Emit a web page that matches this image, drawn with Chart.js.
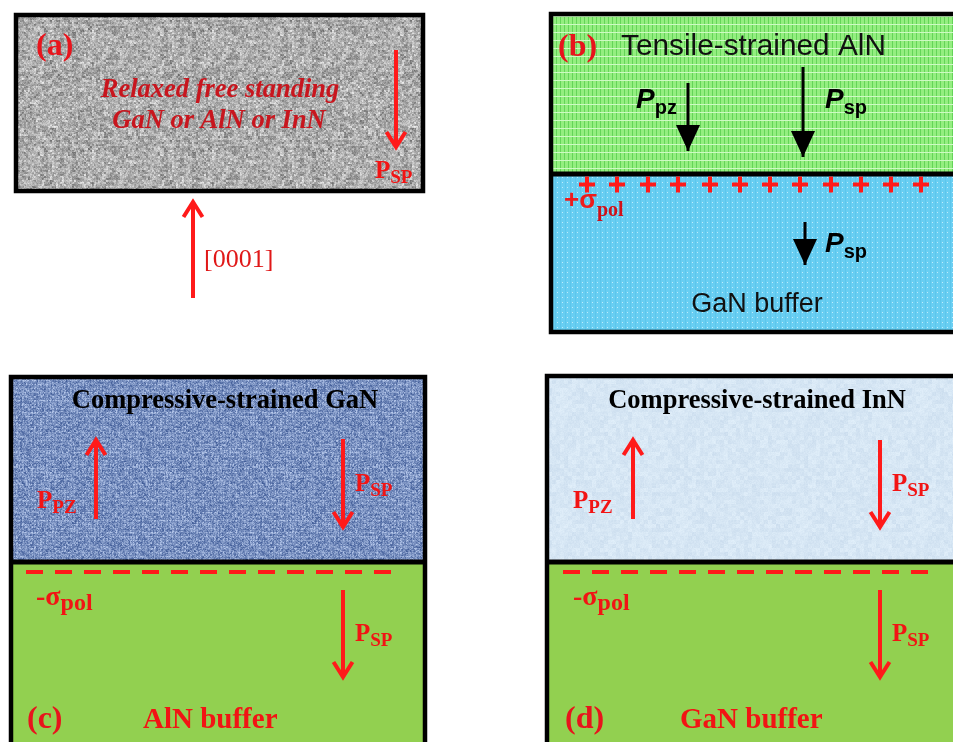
<!DOCTYPE html>
<html><head><meta charset="utf-8">
<script src="https://cdn.jsdelivr.net/npm/chart.js@4/dist/chart.umd.min.js"></script>
<style>html,body{margin:0;padding:0;background:#fff;overflow:hidden}canvas{display:block}</style>
</head><body>
<canvas id="c" width="953" height="742"></canvas>
<script>
// ---- diagram data (diagram units on a 953 x 742 value grid) ----
const layers = [
  {id:'a',     x0:16,  x1:423, y0:15,  y1:191, material:'grey'},
  {id:'b-top', x0:551, x1:960, y0:14,  y1:174, material:'greenGrid'},
  {id:'b-bot', x0:551, x1:960, y0:174, y1:332, material:'cyanDots'},
  {id:'c-top', x0:11,  x1:425, y0:377, y1:562, material:'denim'},
  {id:'c-bot', x0:11,  x1:425, y0:562, y1:750, material:'green'},
  {id:'d-top', x0:547, x1:960, y0:376, y1:562, material:'paleBlue'},
  {id:'d-bot', x0:547, x1:960, y0:562, y1:750, material:'green'}
];
const frames = [
  {x0:16,  x1:423, y0:15,  y1:191},
  {x0:551, x1:962, y0:14,  y1:332},
  {x0:11,  x1:425, y0:377, y1:752},
  {x0:547, x1:962, y0:376, y1:752}
];
const interfaces = [
  {x0:551, x1:962, y:174},
  {x0:11,  x1:425, y:562},
  {x0:547, x1:962, y:562}
];
const arrows = [
  {x:396, from:50,  to:147, kind:'red'},
  {x:193, from:298, to:202, kind:'red'},
  {x:688, from:83,  to:151, kind:'black'},
  {x:803, from:67,  to:157, kind:'black'},
  {x:805, from:222, to:265, kind:'black'},
  {x:96,  from:519, to:440, kind:'red'},
  {x:343, from:439, to:527, kind:'red'},
  {x:343, from:590, to:677, kind:'red'},
  {x:633, from:519, to:440, kind:'red'},
  {x:880, from:440, to:527, kind:'red'},
  {x:880, from:590, to:677, kind:'red'}
];
const chargeX = [587,617,648,678,710,740,770,800,831,861,891,921];
const chargeY = 184.5;
const negSheets = [
  {x0:26,  x1:398, y:572},
  {x0:563, x1:934, y:572}
];
const labels = [
  {text:'(a)', x:36, y:55, style:'panel'},
  {text:'Relaxed free standing', x:220, y:97, style:'italicRed', align:'center'},
  {text:'GaN or AlN or InN', x:219, y:128, style:'italicRed', align:'center'},
  {text:'P', sub:'SP', x:375, y:178, style:'pSerif'},
  {text:'[0001]', x:204, y:267, style:'axis'},
  {text:'(b)', x:558, y:56, style:'panel'},
  {text:'Tensile-strained AlN', x:621, y:55, style:'sansTitle'},
  {text:'P', sub:'pz', x:636, y:108, style:'pSans'},
  {text:'P', sub:'sp', x:825, y:108, style:'pSans'},
  {text:'P', sub:'sp', x:825, y:252, style:'pSans'},
  {text:'+σ', sub:'pol', x:564, y:208, style:'sigmaPlus'},
  {text:'GaN buffer', x:757, y:312, style:'sansBase', align:'center'},
  {text:'Compressive-strained GaN', x:225, y:408, style:'serifTitle', align:'center'},
  {text:'P', sub:'PZ', x:37, y:508, style:'pSerif'},
  {text:'P', sub:'SP', x:355, y:491, style:'pSerif'},
  {text:'-σ', sub:'pol', x:36, y:605, style:'sigmaMinus'},
  {text:'P', sub:'SP', x:355, y:641, style:'pSerif'},
  {text:'(c)', x:27, y:728, style:'panel'},
  {text:'AlN buffer', x:143, y:728, style:'bufferRed'},
  {text:'Compressive-strained InN', x:757, y:408, style:'serifTitle', align:'center'},
  {text:'P', sub:'PZ', x:573, y:508, style:'pSerif'},
  {text:'P', sub:'SP', x:892, y:491, style:'pSerif'},
  {text:'-σ', sub:'pol', x:573, y:605, style:'sigmaMinus'},
  {text:'P', sub:'SP', x:892, y:641, style:'pSerif'},
  {text:'(d)', x:565, y:728, style:'panel'},
  {text:'GaN buffer', x:680, y:728, style:'bufferRed'}
];

// ---- styles ----
const RED = '#f21414';
const SERIF = '"Liberation Serif","DejaVu Serif",serif';
const SANS = '"Liberation Sans",Arial,sans-serif';
const textStyles = {
  panel:     {font:'bold 32px '+SERIF, color:'#e8141c'},
  italicRed: {font:'italic bold 26.5px '+SERIF, color:'#c8161e'},
  pSerif:    {font:'bold 25px '+SERIF, subFont:'bold 19px '+SERIF, subDy:5, color:RED},
  axis:      {font:'26px '+SERIF, color:'#e01818'},
  sansTitle: {font:'29.8px '+SANS, color:'#111'},
  pSans:     {font:'italic bold 28px '+SANS, subFont:'bold 20px '+SANS, subDy:6, color:'#000'},
  sigmaPlus: {font:'bold 26px '+SANS, subFont:'bold 20px '+SERIF, subDy:8, color:'#ee1c1c', subColor:'#d01018'},
  sansBase:  {font:'27px '+SANS, color:'#111'},
  serifTitle:{font:'bold 26.5px '+SERIF, color:'#000'},
  sigmaMinus:{font:'bold 28px '+SERIF, subFont:'bold 24px '+SERIF, subDy:5, color:RED},
  bufferRed: {font:'bold 29px '+SERIF, color:RED}
};
const arrowStyles = {
  red:   {color:'#ff1a1a', width:4, head:'chevron', hw:9.5, hl:15},
  black: {color:'#000',    width:3, head:'triangle', hw:12, hl:26}
};

// ---- deterministic textures ----
function hsh(i,j,s){
  let n = Math.imul(i,374761393) ^ Math.imul(j,668265263) ^ Math.imul(s,1442695041);
  n = Math.imul(n ^ (n>>>13), 1274126177);
  n = n ^ (n>>>16);
  return (n>>>0)/4294967296;
}
function makeTile(w,h,fn){
  const cv = document.createElement('canvas'); cv.width=w; cv.height=h;
  const c = cv.getContext('2d'); const img = c.createImageData(w,h);
  for(let j=0;j<h;j++)for(let i=0;i<w;i++){
    const [r,g,b]=fn(i,j); const k=(j*w+i)*4;
    img.data[k]=r; img.data[k+1]=g; img.data[k+2]=b; img.data[k+3]=255;
  }
  c.putImageData(img,0,0); return cv;
}
const tiles = {
  grey: makeTile(120,120,(i,j)=>{
    const v = 0.45*hsh(i>>1,j>>1,1)+0.3*hsh(i,j,2)+0.25*hsh(i>>2,j>>2,3);
    const g = Math.round(105 + v*135); return [g,g,g];
  }),
  greenGrid: makeTile(16,16,(i,j)=>{
    if(j%8===0) return [205,250,195];
    if(i%4===0) return [100,212,88];
    return [148,238,128];
  }),
  cyanDots: makeTile(10,10,(i,j)=>{
    if((i%5===2)&&(j%5===2)) return [190,236,252];
    if(i%5===0) return [92,198,236];
    return [104,206,242];
  }),
  denim: makeTile(120,120,(i,j)=>{
    let t = 0.6*hsh(i,j,5)+0.4*hsh(i>>1,j>>1,6);
    if(i%3===0) t*=0.8;
    if(j%4===0) t=Math.min(1,t*1.15+0.05);
    return [Math.round(62+t*120), Math.round(90+t*110), Math.round(150+t*85)];
  }),
  paleBlue: makeTile(120,120,(i,j)=>{
    const t = 0.6*hsh(i>>2,j>>2,7)+0.4*hsh(i,j,8);
    return [Math.round(203+t*22), Math.round(221+t*18), Math.round(238+t*12)];
  })
};

// ---- datasets built from the data arrays ----
const datasets = [];
arrows.forEach(a=>{
  const s = arrowStyles[a.kind];
  datasets.push({
    data:[{x:a.x,y:a.from},{x:a.x,y:a.to}], showLine:true,
    borderColor:s.color, borderWidth:s.width, pointRadius:0,
    borderCapStyle:'butt', arrowKind:a.kind
  });
});
negSheets.forEach(d=>{
  datasets.push({
    data:[{x:d.x0,y:d.y},{x:d.x1,y:d.y}], showLine:true,
    borderColor:'#ff1a1a', borderWidth:4, borderDash:[17,12], pointRadius:0
  });
});
datasets.push({
  data: chargeX.map(x=>({x, y:chargeY})), showLine:false,
  pointStyle:'cross', pointRadius:8, pointBorderWidth:4,
  pointBorderColor:'#ff1a1a', pointBackgroundColor:'#ff1a1a'
});

const diagramPlugin = {
  id:'diagram',
  beforeDatasetsDraw(chart){
    const {ctx, scales:{x,y}} = chart;
    ctx.save();
    layers.forEach(L=>{
      const px0=x.getPixelForValue(L.x0), px1=x.getPixelForValue(L.x1);
      const py0=y.getPixelForValue(L.y0), py1=y.getPixelForValue(L.y1);
      ctx.fillStyle = L.material==='green' ? '#92d050' : ctx.createPattern(tiles[L.material],'repeat');
      ctx.fillRect(px0,py0,px1-px0,py1-py0);
    });
    ctx.strokeStyle='#000'; ctx.lineWidth=4.5; ctx.lineJoin='miter';
    frames.forEach(F=>{
      const px0=x.getPixelForValue(F.x0), px1=x.getPixelForValue(F.x1);
      const py0=y.getPixelForValue(F.y0), py1=y.getPixelForValue(F.y1);
      ctx.strokeRect(px0,py0,px1-px0,py1-py0);
    });
    ctx.lineWidth=5;
    interfaces.forEach(I=>{
      ctx.beginPath();
      ctx.moveTo(x.getPixelForValue(I.x0), y.getPixelForValue(I.y));
      ctx.lineTo(x.getPixelForValue(I.x1), y.getPixelForValue(I.y));
      ctx.stroke();
    });
    ctx.restore();
  },
  afterDatasetsDraw(chart){
    const {ctx, scales:{x,y}} = chart;
    ctx.save();
    chart.data.datasets.forEach((ds,i)=>{
      if(!ds.arrowKind) return;
      const s = arrowStyles[ds.arrowKind];
      const pts = chart.getDatasetMeta(i).data;
      const p0 = pts[0], p1 = pts[1];
      const dir = Math.sign(p1.y - p0.y);
      ctx.beginPath();
      if(s.head==='chevron'){
        ctx.strokeStyle=s.color; ctx.lineWidth=s.width; ctx.lineJoin='miter'; ctx.lineCap='butt';
        ctx.moveTo(p1.x - s.hw, p1.y - dir*s.hl);
        ctx.lineTo(p1.x, p1.y);
        ctx.lineTo(p1.x + s.hw, p1.y - dir*s.hl);
        ctx.stroke();
      } else {
        ctx.fillStyle=s.color;
        ctx.moveTo(p1.x, p1.y);
        ctx.lineTo(p1.x - s.hw, p1.y - dir*s.hl);
        ctx.lineTo(p1.x + s.hw, p1.y - dir*s.hl);
        ctx.closePath(); ctx.fill();
      }
    });
    ctx.textBaseline='alphabetic';
    labels.forEach(L=>{
      const st = textStyles[L.style];
      const px = x.getPixelForValue(L.x), py = y.getPixelForValue(L.y);
      ctx.font = st.font;
      const w1 = ctx.measureText(L.text).width;
      let w2 = 0;
      if(L.sub){ ctx.font = st.subFont; w2 = ctx.measureText(L.sub).width; }
      let sx = px;
      if(L.align==='center') sx = px - (w1+w2)/2;
      ctx.textAlign='left';
      ctx.font = st.font; ctx.fillStyle = st.color;
      ctx.fillText(L.text, sx, py);
      if(L.sub){
        ctx.font = st.subFont; ctx.fillStyle = st.subColor || st.color;
        ctx.fillText(L.sub, sx + w1, py + st.subDy);
      }
    });
    ctx.restore();
  }
};

new Chart(document.getElementById('c'), {
  type:'scatter',
  data:{datasets},
  options:{
    responsive:false, devicePixelRatio:1, animation:false,
    layout:{padding:0, autoPadding:false},
    plugins:{legend:{display:false}, tooltip:{enabled:false}},
    events:[],
    scales:{
      x:{type:'linear', min:0, max:953, display:false},
      y:{type:'linear', min:0, max:742, reverse:true, display:false}
    }
  },
  plugins:[diagramPlugin]
});
</script>
</body></html>
